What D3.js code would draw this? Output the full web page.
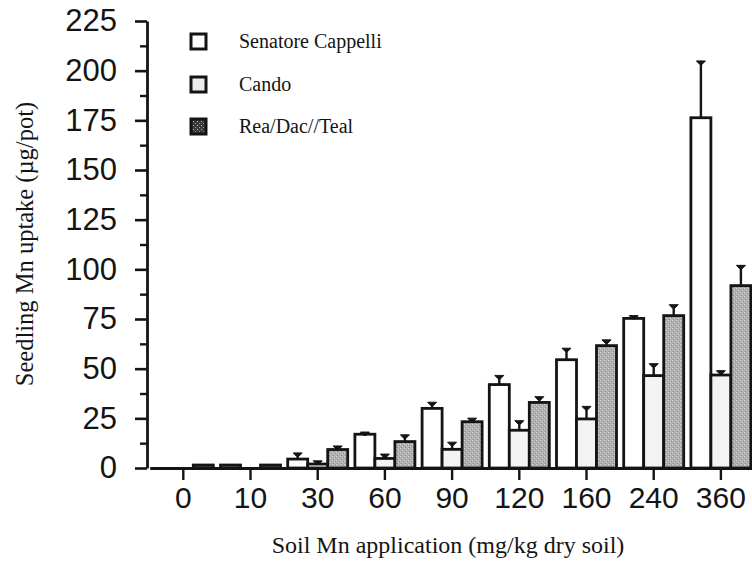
<!DOCTYPE html>
<html><head><meta charset="utf-8">
<script src="https://cdn.jsdelivr.net/npm/d3@7"></script>
<style>
html,body{margin:0;padding:0;background:#fff;}
svg{display:block;}
</style></head>
<body>
<svg id="chart" width="752" height="565"></svg>
<script>
// ---- data ----
const categories = ["0","10","30","60","90","120","160","240","360"];
const seriesNames = ["Senatore Cappelli","Cando","Rea/Dac//Teal"];
const scValues    = [0, 1.5, 4.5, 17, 30, 42, 54.5, 75.3, 176.3];
const scErr       = [0, 0, 2.5, 0.5, 2.5, 4, 5.2, 0.8, 28];
const candoValues = [0, 0, 2, 4.8, 9.4, 19, 24.7, 46.5, 46.8];
const candoErr    = [0, 0, 1, 1.6, 3, 4.2, 5.7, 5.4, 1.6];
const reaValues   = [1.5, 1.5, 9.3, 13.3, 23.3, 33, 61.6, 76.7, 91.8];
const reaErr      = [0, 0, 1.2, 2.8, 1.2, 2.3, 2.3, 4.9, 9.6];
const yTicks = [0,25,50,75,100,125,150,175,200,225];

const seriesValues = [scValues, candoValues, reaValues];
const seriesErr = [scErr, candoErr, reaErr];

const svg = d3.select("#chart");
const defs = svg.append("defs");

// stipple pattern for Rea/Dac//Teal bars
const pat = defs.append("pattern").attr("id","stip").attr("width",4).attr("height",4)
  .attr("patternUnits","userSpaceOnUse");
pat.append("rect").attr("width",4).attr("height",4).attr("fill","#b0b0b0");
pat.append("rect").attr("x",0).attr("y",0).attr("width",1).attr("height",1).attr("fill","#d8d8d8");
pat.append("rect").attr("x",2).attr("y",2).attr("width",1).attr("height",1).attr("fill","#d0d0d0");
pat.append("rect").attr("x",1).attr("y",3).attr("width",1).attr("height",1).attr("fill","#8a8a8a");
pat.append("rect").attr("x",3).attr("y",1).attr("width",1).attr("height",1).attr("fill","#929292");
// dark legend pattern
const pat2 = defs.append("pattern").attr("id","stipDark").attr("width",4).attr("height",4)
  .attr("patternUnits","userSpaceOnUse");
pat2.append("rect").attr("width",4).attr("height",4).attr("fill","#3a3a3a");
pat2.append("rect").attr("x",1).attr("y",1).attr("width",1).attr("height",1).attr("fill","#bbb");
pat2.append("rect").attr("x",3).attr("y",3).attr("width",1).attr("height",1).attr("fill","#999");

const fills = ["#ffffff", "#f3f3f3", "url(#stip)"];
const legendFills = ["#ffffff", "#ececec", "url(#stipDark)"];

// ---- scales ----
const y = d3.scaleLinear().domain([0,225]).range([468,21]);
const x0 = d3.scaleBand().domain(categories).range([149.7,754.5])
  .paddingInner(0.107).paddingOuter(0.0535);
const x1 = d3.scaleBand().domain(seriesNames).range([0, x0.bandwidth()]).padding(0);

const ink = "#141414";

// ---- bars ----
const rows = [];
categories.forEach((c,i)=>{
  seriesNames.forEach((s,j)=>{
    rows.push({cat:c, ser:s, j:j, v:seriesValues[j][i], e:seriesErr[j][i]});
  });
});

const g = svg.append("g");
g.selectAll("rect.bar").data(rows).join("rect")
  .attr("class","bar")
  .attr("x", d=>x0(d.cat)+x1(d.ser))
  .attr("y", d=>y(d.v))
  .attr("width", x1.bandwidth())
  .attr("height", d=>y(0)-y(d.v))
  .attr("fill", d=>fills[d.j])
  .attr("stroke", ink)
  .attr("stroke-width", 2.8);

// error bars
const eb = rows.filter(d=>d.e>0);
g.selectAll("line.err").data(eb).join("line")
  .attr("x1", d=>x0(d.cat)+x1(d.ser)+x1.bandwidth()/2)
  .attr("x2", d=>x0(d.cat)+x1(d.ser)+x1.bandwidth()/2)
  .attr("y1", d=>y(d.v))
  .attr("y2", d=>y(d.v+d.e))
  .attr("stroke", ink).attr("stroke-width", 2.4);
g.selectAll("path.cap").data(eb).join("path")
  .attr("d", d=>{
    const cx = x0(d.cat)+x1(d.ser)+x1.bandwidth()/2;
    const cy = y(d.v+d.e);
    return `M${cx-4.5},${cy-1.2}L${cx+4.5},${cy-1.2}L${cx+1.2},${cy+2.2}L${cx-1.2},${cy+2.2}Z`;
  })
  .attr("fill", ink).attr("stroke", ink).attr("stroke-width",1);

// ---- axes ----
const yMinor = d3.range(12.5, 225, 25);
const yAxisMinor = svg.append("g").attr("transform","translate(147,0)")
  .call(d3.axisLeft(y).tickValues(yMinor).tickSize(7).tickFormat(""));
yAxisMinor.select(".domain").remove();
yAxisMinor.selectAll("line").attr("stroke", ink).attr("stroke-width", 2.4);

const yAxis = svg.append("g").attr("transform","translate(147,0)")
  .call(d3.axisLeft(y).tickValues(yTicks).tickSize(12).tickSizeOuter(0).tickPadding(18));
yAxis.select(".domain").attr("stroke", ink).attr("stroke-width", 2.8);
yAxis.selectAll(".tick line").attr("stroke", ink).attr("stroke-width", 2.6);
yAxis.selectAll("text")
  .attr("font-family","'Liberation Sans', Arial, sans-serif")
  .attr("font-size", 31).attr("fill", ink);

const xAxis = svg.append("g").attr("transform","translate(0,468)")
  .call(d3.axisBottom(x0).tickSize(12).tickSizeOuter(0).tickPadding(7));
xAxis.select(".domain").attr("stroke", ink).attr("stroke-width", 2.8);
xAxis.selectAll(".tick line").attr("stroke", ink).attr("stroke-width", 2.4);
xAxis.selectAll("text")
  .attr("font-family","'Liberation Sans', Arial, sans-serif")
  .attr("font-size", 30).attr("fill", ink);

// ---- axis titles ----
svg.append("text")
  .attr("x", 448).attr("y", 553)
  .attr("text-anchor","middle")
  .attr("font-family","'Liberation Serif', 'Times New Roman', serif")
  .attr("font-size", 24).attr("fill", ink)
  .text("Soil Mn application (mg/kg dry soil)");

svg.append("text")
  .attr("transform","translate(33,244) rotate(-90)")
  .attr("text-anchor","middle")
  .attr("font-family","'Liberation Serif', 'Times New Roman', serif")
  .attr("font-size", 24.5).attr("fill", ink)
  .text("Seedling Mn uptake (µg/pot)");

// ---- legend ----
const legY = [42, 85, 127];
const leg = svg.append("g");
seriesNames.forEach((s,i)=>{
  leg.append("rect")
    .attr("x", 191).attr("y", legY[i]-8).attr("width", 15).attr("height", 15)
    .attr("fill", legendFills[i]).attr("stroke", ink).attr("stroke-width", 3);
  leg.append("text")
    .attr("x", 239).attr("y", legY[i]+6)
    .attr("font-family","'Liberation Serif', 'Times New Roman', serif")
    .attr("font-size", 20).attr("fill", ink)
    .text(s);
});
</script>
</body></html>
